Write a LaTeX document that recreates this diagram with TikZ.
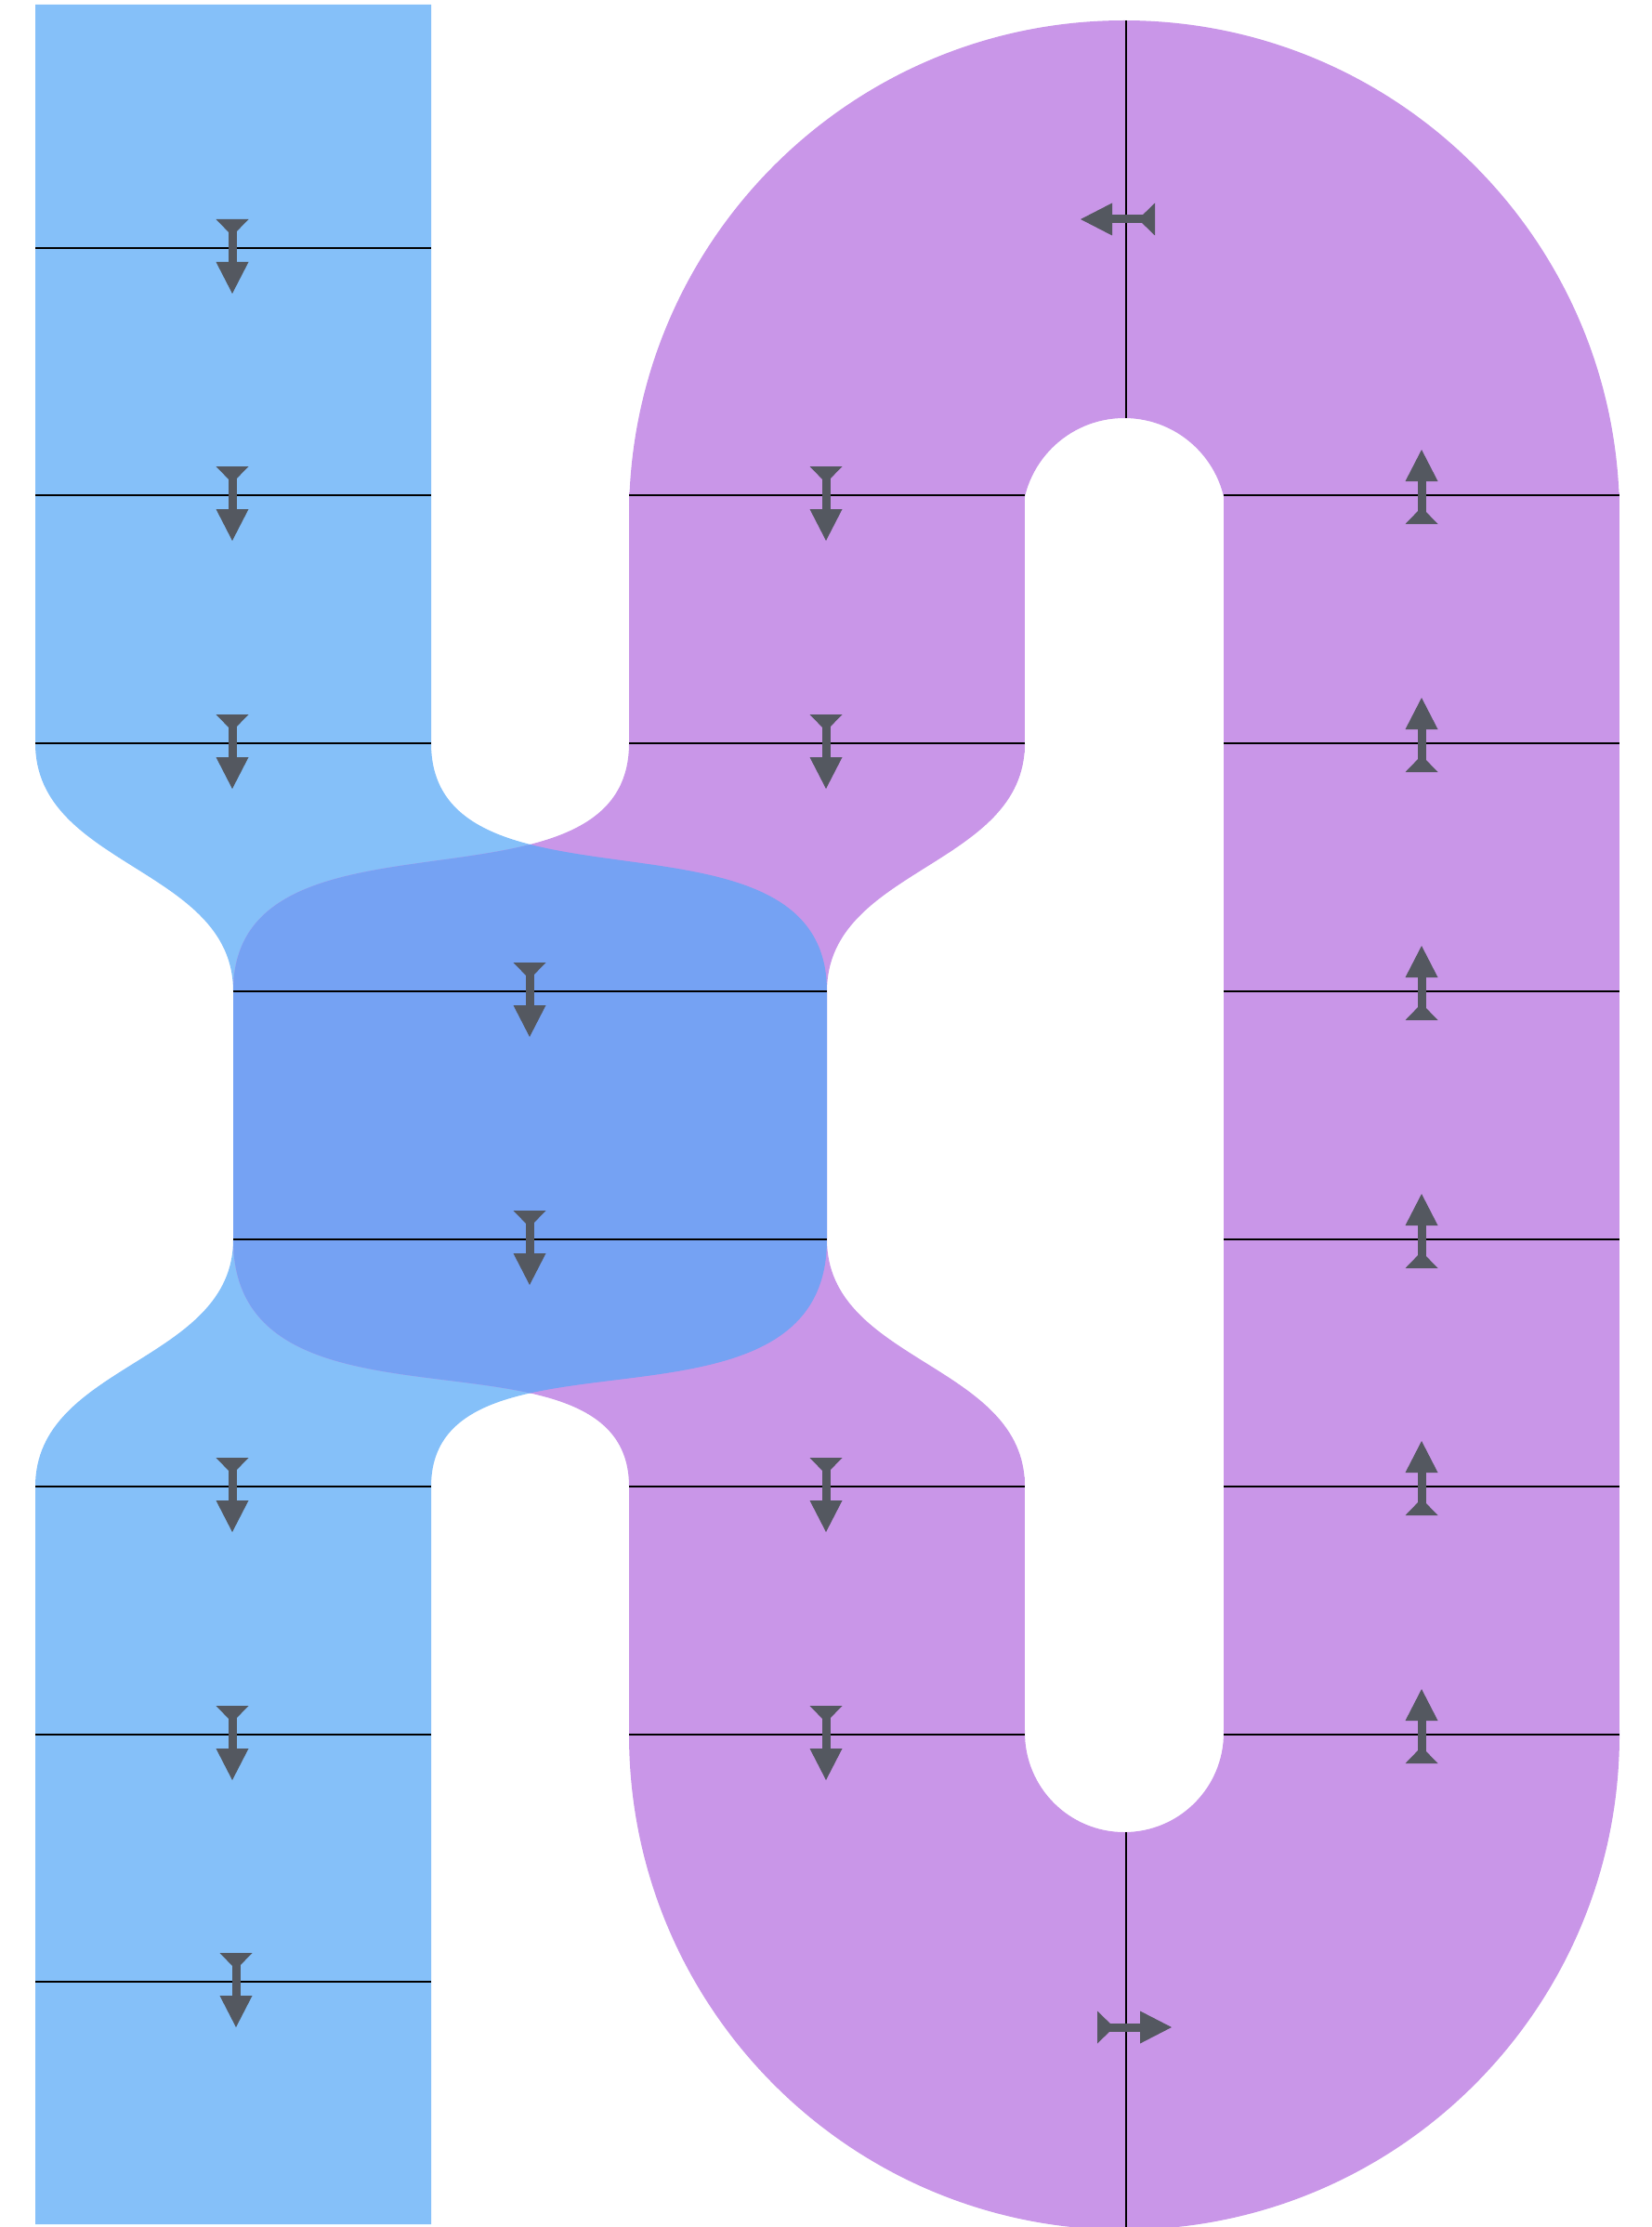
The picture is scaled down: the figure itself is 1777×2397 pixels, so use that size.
\documentclass[tikz,border=0pt]{standalone}
\usepackage{tikz}
\definecolor{bandblue}{HTML}{85C0F9}
\definecolor{bandpurple}{HTML}{C996E8}
\definecolor{bandmix}{HTML}{75A2F3}
\definecolor{markgray}{HTML}{545860}

\tikzset{
  % flow marker: fletching, shaft and head, pointing along local +x
  flowmark/.pic={
    \fill[markgray] (-31,-17.5) -- (-13,0) -- (-31,17.5) -- cycle;
    \fill[markgray] (-31,-4.5) rectangle (15,4.5);
    \fill[markgray] (15,-17.5) -- (49,0) -- (15,17.5) -- cycle;
  },
  cutline/.style={line width=2.8pt, black},
  down/.style={rotate=-90},
  up/.style={rotate=90},
}

\begin{document}
\begin{tikzpicture}[x=1pt,y=-1pt]
\useasboundingbox (0,0) rectangle (1777,2397);

% blue band, widening through the crossing
\fill[bandblue] (38,5) -- (464,5) -- (464,800)
  .. controls (464,1000) and (890,850) .. (890,1067) -- (890,1334)
  .. controls (890,1568) and (464,1410) .. (464,1600) -- (464,2394) -- (38,2394) -- (38,1600)
  .. controls (38,1467) and (251,1467) .. (251,1334) -- (251,1067)
  .. controls (251,933.5) and (38,933.5) .. (38,800) -- cycle;

% purple band: crossing section
\fill[bandpurple] (677,800) -- (1103,800)
  .. controls (1103,933.5) and (890,933.5) .. (890,1067) -- (890,1334)
  .. controls (890,1467) and (1103,1467) .. (1103,1600) -- (677,1600)
  .. controls (677,1410) and (251,1568) .. (251,1334) -- (251,1067)
  .. controls (251,850) and (677,1000) .. (677,800) -- cycle;

% purple band: straight runs
\fill[bandpurple] (677,530) rectangle (1103,810);
\fill[bandpurple] (677,1590) rectangle (1103,1870);
\fill[bandpurple] (1317,530) rectangle (1743,1870);

% purple band: upper bend
\begin{scope}
  \clip (600,0) rectangle (1800,540);
  \fill[bandpurple, even odd rule] (1210,555) circle[radius=533] (1210,560) circle[radius=110];
\end{scope}

% purple band: lower bend
\begin{scope}
  \clip (600,1862) rectangle (1800,2400);
  \fill[bandpurple, even odd rule] (1210,1867) circle[radius=533] (1210,1865) circle[radius=107];
\end{scope}

% where both bands share the same strip
\begin{scope}
  \clip (38,5) -- (464,5) -- (464,800)
    .. controls (464,1000) and (890,850) .. (890,1067) -- (890,1334)
    .. controls (890,1568) and (464,1410) .. (464,1600) -- (464,2394) -- (38,2394) -- (38,1600)
    .. controls (38,1467) and (251,1467) .. (251,1334) -- (251,1067)
    .. controls (251,933.5) and (38,933.5) .. (38,800) -- cycle;
  \fill[bandmix] (677,800) -- (1103,800)
    .. controls (1103,933.5) and (890,933.5) .. (890,1067) -- (890,1334)
    .. controls (890,1467) and (1103,1467) .. (1103,1600) -- (677,1600)
    .. controls (677,1410) and (251,1568) .. (251,1334) -- (251,1067)
    .. controls (251,850) and (677,1000) .. (677,800) -- cycle;
\end{scope}

% cross-section lines
\draw[cutline] (38,267) -- (464,267);
\foreach \y in {533,800,1600,1867} {
  \draw[cutline] (38,\y) -- (464,\y);
  \draw[cutline] (677,\y) -- (1103,\y);
}
\draw[cutline] (251,1067) -- (890,1067);
\draw[cutline] (251,1334) -- (890,1334);
\foreach \y in {533,800,1067,1334,1600,1867}
  \draw[cutline] (1317,\y) -- (1743,\y);
\draw[cutline] (38,2133) -- (464,2133);
\draw[cutline] (1212,22) -- (1212,450);
\draw[cutline] (1212,1972) -- (1212,2397);

% flow markers
\foreach \y in {267,533,800,1600,1867}
  \pic[down] at (250,\y) {flowmark};
\pic[down] at (254,2133) {flowmark};
\pic[down] at (570,1067) {flowmark};
\pic[down] at (570,1334) {flowmark};
\foreach \y in {533,800,1600,1867}
  \pic[down] at (889,\y) {flowmark};
\foreach \y in {533,800,1067,1334,1600,1867}
  \pic[up] at (1530,\y) {flowmark};
\pic[rotate=180] at (1212,236) {flowmark};
\pic at (1212,2182) {flowmark};
\end{tikzpicture}
\end{document}
